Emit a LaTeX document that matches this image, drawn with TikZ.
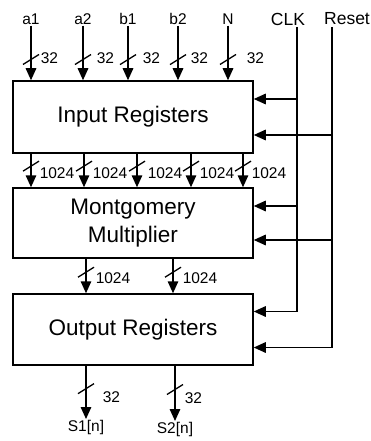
\documentclass[tikz,border=0pt]{standalone}
\usepackage{fontspec}
\setmainfont{Liberation Sans}
\usetikzlibrary{arrows.meta,calc}
\tikzset{
  >={Triangle[length=12pt,width=10.5pt]},
  every node/.style={font=\fontsize{15.5}{18}\selectfont,inner sep=1pt},
  regbox/.style={draw,line width=1.5pt,minimum width=240pt,align=center,inner sep=0pt,font=\fontsize{22.5}{28}\selectfont},
  ctrl/.style={font=\fontsize{17.5}{20}\selectfont},
  sig/.style={->,line width=1.5pt},
  buslbl/.style={anchor=west,inner sep=0pt},
  bus/.pic={\draw[-,line width=1.3pt] (-8,5) -- (8,-5);},
}
\begin{document}
\begin{tikzpicture}[x=1pt,y=-1pt]
  \useasboundingbox (0,0) rectangle (371,441);
  \node[regbox,minimum height=72pt] (inreg) at (133,117) {Input Registers};
  \node[regbox,minimum height=70pt] (mult) at (133,223) {Montgomery\\Multiplier};
  \node[regbox,minimum height=71pt] (outreg) at (133,329.5) {Output Registers};

  \node (a1) at (31,19) {a1}; \node (a2) at (83,19) {a2}; \node (b1) at (128,19) {b1};
  \node (b2) at (178,19) {b2}; \node (N) at (228,19) {N};
  \draw[sig] (a1) -- pic[pos=0.62]{bus} node[buslbl,pos=0.6,xshift=9pt]{32} (a1 |- inreg.north);
  \draw[sig] (a2) -- pic[pos=0.62]{bus} node[buslbl,pos=0.6,xshift=13pt]{32} (a2 |- inreg.north);
  \draw[sig] (b1) -- pic[pos=0.62]{bus} node[buslbl,pos=0.6,xshift=14pt]{32} (b1 |- inreg.north);
  \draw[sig] (b2) -- pic[pos=0.62]{bus} node[buslbl,pos=0.6,xshift=12pt]{32} (b2 |- inreg.north);
  \draw[sig] (N) -- pic[pos=0.62]{bus} node[buslbl,pos=0.6,xshift=18pt]{32} (N |- inreg.north);

  \draw[sig] (inreg.south -| 31,0) -- pic[pos=0.37]{bus} node[buslbl,pos=0.57,xshift=8pt]{1024} (mult.north -| 31,0);
  \draw[sig] (inreg.south -| 84,0) -- pic[pos=0.37]{bus} node[buslbl,pos=0.57,xshift=8pt]{1024} (mult.north -| 84,0);
  \draw[sig] (inreg.south -| 137,0) -- pic[pos=0.37]{bus} node[buslbl,pos=0.57,xshift=10pt]{1024} (mult.north -| 137,0);
  \draw[sig] (inreg.south -| 191,0) -- pic[pos=0.37]{bus} node[buslbl,pos=0.57,xshift=8pt]{1024} (mult.north -| 191,0);
  \draw[sig] (inreg.south -| 243,0) -- pic[pos=0.37]{bus} node[buslbl,pos=0.57,xshift=8pt]{1024} (mult.north -| 243,0);

  \draw[sig] (mult.south -| 86,0) -- pic[pos=0.39]{bus} node[buslbl,pos=0.56,xshift=9pt]{1024} (outreg.north -| 86,0);
  \draw[sig] (mult.south -| 173,0) -- pic[pos=0.39]{bus} node[buslbl,pos=0.56,xshift=9pt]{1024} (outreg.north -| 173,0);

  \node[anchor=north] (s1) at (86,419) {S1[n]};
  \node[anchor=north] (s2) at (175,421) {S2[n]};
  \draw[sig] (outreg.south -| s1) -- pic[pos=0.43]{bus} node[buslbl,pos=0.59,xshift=16pt]{32} (s1);
  \draw[sig] (outreg.south -| s2) -- pic[pos=0.43]{bus} node[buslbl,pos=0.59,xshift=9pt]{32} (s2);

  \node[ctrl] (clk) at (288,19) {CLK};
  \node[ctrl] (rst) at (347,19) {Reset};
  \coordinate (clktop) at (297,27);
  \coordinate (rsttop) at (332,27);
  \coordinate (inreg-clk) at ($(inreg.east)+(0,-18)$); \coordinate (inreg-rst) at ($(inreg.east)+(0,18)$);
  \coordinate (mult-clk) at ($(mult.east)+(0,-17)$); \coordinate (mult-rst) at ($(mult.east)+(0,17)$);
  \coordinate (outreg-clk) at ($(outreg.east)+(0,-18)$); \coordinate (outreg-rst) at ($(outreg.east)+(0,18)$);
  \draw[sig] (clktop) |- (outreg-clk);
  \draw[sig] (rsttop) |- (outreg-rst);
  \draw[sig] (clktop |- inreg-clk) -- (inreg-clk); \draw[sig] (rsttop |- inreg-rst) -- (inreg-rst);
  \draw[sig] (clktop |- mult-clk) -- (mult-clk); \draw[sig] (rsttop |- mult-rst) -- (mult-rst);
\end{tikzpicture}
\end{document}
